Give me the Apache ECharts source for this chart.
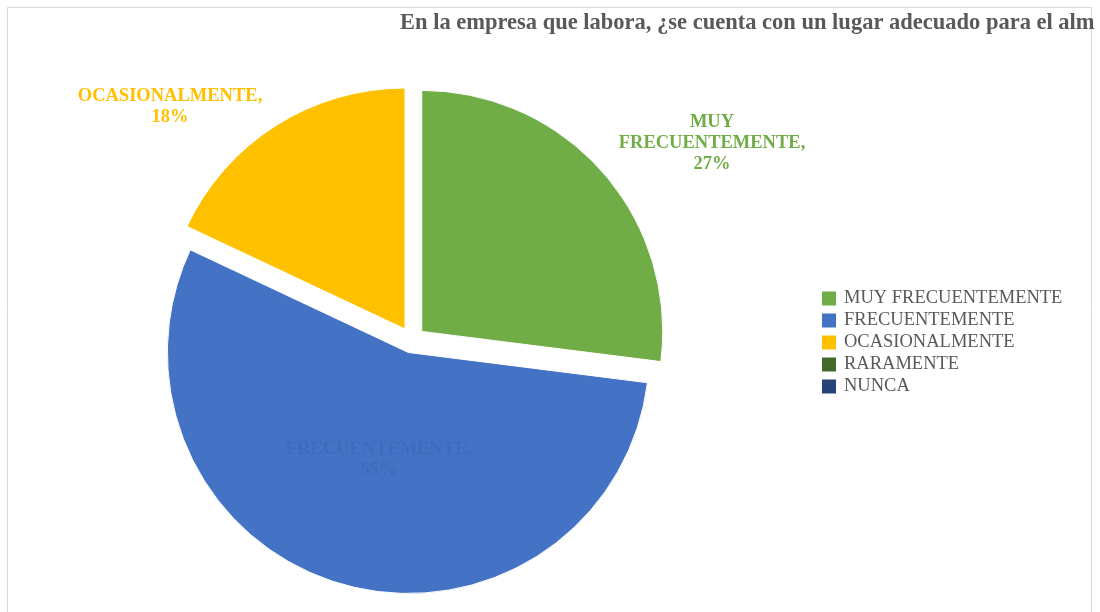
<!DOCTYPE html>
<html>
<head>
<meta charset="utf-8">
<script src="https://cdn.jsdelivr.net/npm/echarts@6/dist/echarts.min.js"></script>
<style>
html,body{margin:0;padding:0;background:#fff;}
#chart{width:1100px;height:612px;}
</style>
</head>
<body>
<div id="chart"></div>
<script>
var titleText = 'En la empresa que labora, ¿se cuenta con un lugar adecuado para el almacenamiento de los productos?';
var categories = ['MUY FRECUENTEMENTE', 'FRECUENTEMENTE', 'OCASIONALMENTE', 'RARAMENTE', 'NUNCA'];
var values = [27, 55, 18, 0, 0];
var colors = ['#70ad47', '#4472c4', '#ffc000', '#43682b', '#264478'];
var labelColors = ['#70ad47', '#3e6bbd', '#ffc000', '#43682b', '#264478'];
var labelText = ['MUY\nFRECUENTEMENTE,\n27%', 'FRECUENTEMENTE,\n55%', 'OCASIONALMENTE,\n18%', '', ''];
// label anchor positions (layout only)
var labelPos = [[712, 143], [379, 460], [170, 107], null, null];

var chart = echarts.init(document.getElementById('chart'), null, {renderer: 'canvas'});
var serif = '"Liberation Serif", "DejaVu Serif", serif';

var pieData = categories.map(function (c, i) {
  return {name: c, value: values[i], selected: true, itemStyle: {color: colors[i]}};
});
var labelData = categories.map(function (c, i) {
  return {
    name: c,
    value: values[i],
    itemStyle: {color: 'rgba(0,0,0,0)'},
    label: {show: values[i] > 0, color: labelColors[i], formatter: labelText[i]}
  };
});

chart.setOption({
  animation: false,
  backgroundColor: '#fff',
  graphic: [{
    type: 'rect',
    shape: {x: 7.5, y: 7.5, width: 1084, height: 620},
    style: {fill: 'none', stroke: '#d9d9d9', lineWidth: 1},
    silent: true, z: -1
  }],
  title: {
    text: titleText,
    left: 395,
    top: 7,
    textStyle: {
      fontFamily: serif,
      fontSize: 22.5,
      fontWeight: 'bold',
      color: '#595959',
      width: 702,
      overflow: 'truncate',
      ellipsis: ''
    }
  },
  legend: {
    orient: 'vertical',
    left: 820,
    top: 289,
    padding: 0,
    itemWidth: 16,
    itemHeight: 16,
    itemGap: 3,
    icon: 'rect',
    selectedMode: false,
    textStyle: {fontFamily: serif, fontSize: 18.5, color: '#595959', lineHeight: 17, padding: [0, 0, 0, 2]},
    data: categories
  },
  series: [{
    type: 'pie',
    center: [412, 340],
    radius: [0, 241],
    startAngle: 90,
    clockwise: true,
    selectedMode: 'multiple',
    selectedOffset: 13,
    itemStyle: {borderColor: '#fff', borderWidth: 1},
    emphasis: {disabled: true},
    label: {show: false},
    labelLine: {show: false},
    data: pieData
  }, {
    type: 'pie',
    center: [412, 340],
    radius: [0, 241],
    startAngle: 90,
    clockwise: true,
    silent: true,
    z: 5,
    selectedMode: false,
    avoidLabelOverlap: false,
    emphasis: {disabled: true},
    label: {
      position: 'outside',
      fontFamily: serif,
      fontSize: 18.5,
      fontWeight: 'bold',
      lineHeight: 21,
      align: 'center'
    },
    labelLine: {show: false},
    labelLayout: function (params) {
      var p = labelPos[params.dataIndex];
      if (!p) return {};
      return {x: p[0], y: p[1], align: 'center', verticalAlign: 'middle'};
    },
    data: labelData
  }]
});
</script>
</body>
</html>
